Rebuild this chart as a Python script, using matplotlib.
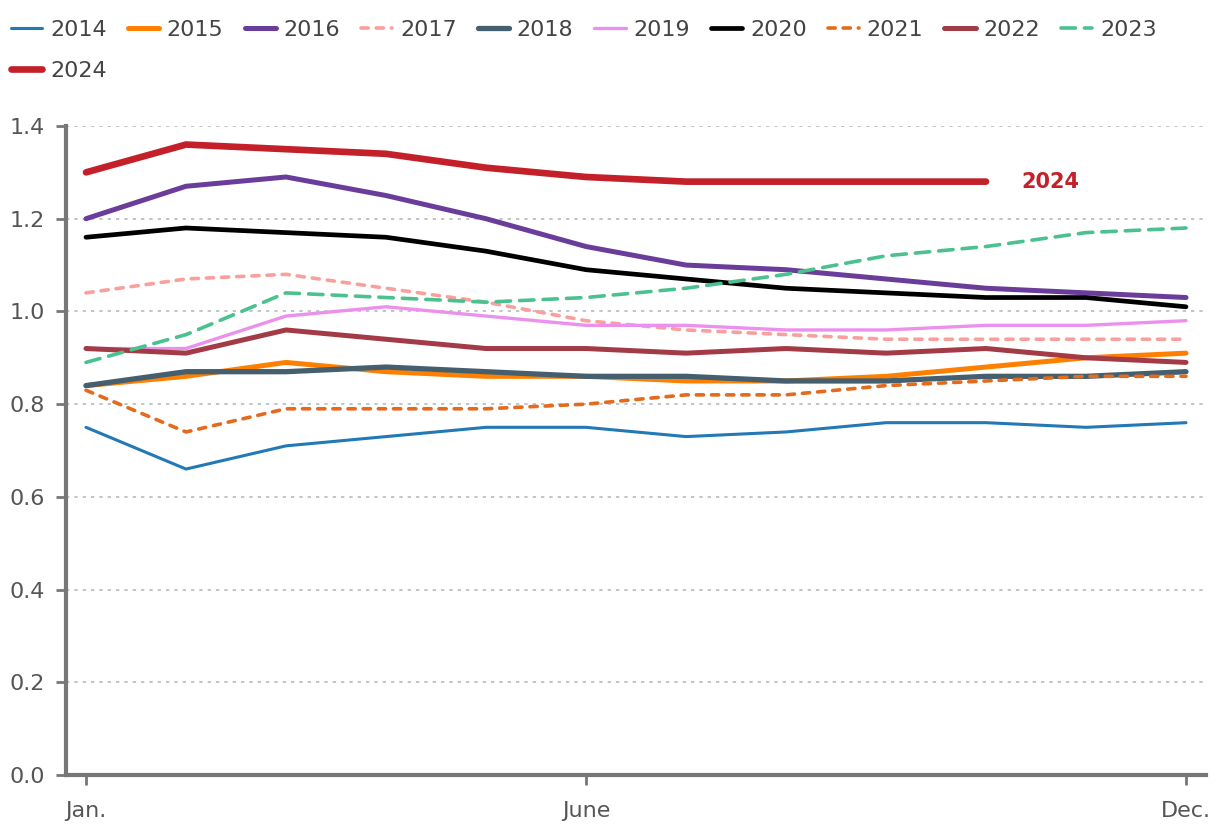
import matplotlib.pyplot as plt

# Data
months = list(range(12))
years = ['2014', '2015', '2016', '2017', '2018', '2019', '2020', '2021', '2022', '2023', '2024']
v2014 = [0.75, 0.66, 0.71, 0.73, 0.75, 0.75, 0.73, 0.74, 0.76, 0.76, 0.75, 0.76]
v2015 = [0.84, 0.86, 0.89, 0.87, 0.86, 0.86, 0.85, 0.85, 0.86, 0.88, 0.90, 0.91]
v2016 = [1.20, 1.27, 1.29, 1.25, 1.20, 1.14, 1.10, 1.09, 1.07, 1.05, 1.04, 1.03]
v2017 = [1.04, 1.07, 1.08, 1.05, 1.02, 0.98, 0.96, 0.95, 0.94, 0.94, 0.94, 0.94]
v2018 = [0.84, 0.87, 0.87, 0.88, 0.87, 0.86, 0.86, 0.85, 0.85, 0.86, 0.86, 0.87]
v2019 = [0.92, 0.92, 0.99, 1.01, 0.99, 0.97, 0.97, 0.96, 0.96, 0.97, 0.97, 0.98]
v2020 = [1.16, 1.18, 1.17, 1.16, 1.13, 1.09, 1.07, 1.05, 1.04, 1.03, 1.03, 1.01]
v2021 = [0.83, 0.74, 0.79, 0.79, 0.79, 0.80, 0.82, 0.82, 0.84, 0.85, 0.86, 0.86]
v2022 = [0.92, 0.91, 0.96, 0.94, 0.92, 0.92, 0.91, 0.92, 0.91, 0.92, 0.90, 0.89]
v2023 = [0.89, 0.95, 1.04, 1.03, 1.02, 1.03, 1.05, 1.08, 1.12, 1.14, 1.17, 1.18]
v2024 = [1.30, 1.36, 1.35, 1.34, 1.31, 1.29, 1.28, 1.28, 1.28, 1.28]
tick_pos = [0, 5, 11]
tick_labels = ['Jan.', 'June', 'Dec.']

series = [v2014, v2015, v2016, v2017, v2018, v2019, v2020, v2021, v2022, v2023, v2024]
colors = ['#2279b5', '#ff8000', '#6b3d9a', '#f9a09c', '#455f6e', '#ec90ee',
          '#000000', '#e46a1c', '#a33b46', '#4ac18e', '#c4202a']
widths = [2.2, 3.6, 3.6, 2.6, 3.8, 2.4, 3.4, 2.6, 3.6, 2.6, 4.8]
styles = ['-', '-', '-', (0, (2, 2.2)), '-', '-', '-', (0, (2, 2.2)), '-', (0, (4, 2.5)), '-']

plt.rcParams['font.family'] = ['DejaVu Sans']
fig = plt.figure(figsize=(12.2, 8.36), dpi=100)
ax = fig.add_axes([66 / 1220, 61 / 836, 1140 / 1220, 649 / 836])

lines = []
for y, vals, c, lw, ls in zip(years, series, colors, widths, styles):
    ln, = ax.plot(months[:len(vals)], vals, color=c, lw=lw, ls=ls, label=y,
                  solid_capstyle='round', dash_capstyle='round', solid_joinstyle='round')
    lines.append(ln)

ax.text(9.35, v2024[-1], '2024', color='#c4202a', fontsize=15, fontweight='bold',
        va='center', ha='left')

ax.set_xlim(-0.2, 11.2)
ax.set_ylim(0, 1.4)
ax.set_yticks([0, 0.2, 0.4, 0.6, 0.8, 1.0, 1.2, 1.4])
ax.set_yticklabels(['0.0', '0.2', '0.4', '0.6', '0.8', '1.0', '1.2', '1.4'])
ax.set_xticks(tick_pos)
ax.set_xticklabels(tick_labels)
ax.tick_params(axis='both', colors='#777777', labelcolor='#555555', labelsize=16,
               width=2, length=7)
ax.tick_params(axis='x', pad=12)
ax.tick_params(axis='y', pad=8)
ax.grid(axis='y', color='#b4bcc0', ls=(0, (2, 3)), lw=1.2)
ax.set_axisbelow(True)
for s in ['top', 'right']:
    ax.spines[s].set_visible(False)
for s in ['left', 'bottom']:
    ax.spines[s].set_color('#777777')
    ax.spines[s].set_linewidth(3)

# legend fills column-wise: put 2024 second so it lands under 2014
order = [0, 10, 1, 2, 3, 4, 5, 6, 7, 8, 9]
fig.legend([lines[i] for i in order], [years[i] for i in order],
           loc='upper left', bbox_to_anchor=(-0.009, 1.003), ncol=10, frameon=False,
           fontsize=16, handlelength=1.4, handletextpad=0.35, columnspacing=0.95,
           labelspacing=0.95, labelcolor='#444444', borderaxespad=0.6)

plt.savefig('out.png')
